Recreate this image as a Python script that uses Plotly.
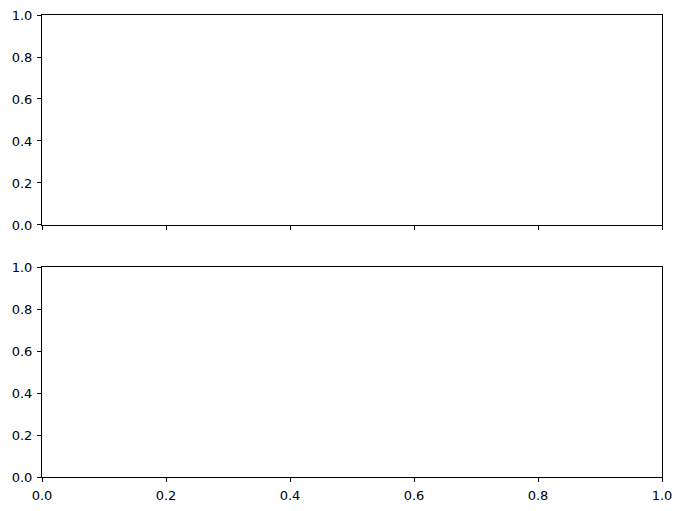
import plotly.graph_objects as go

# axis ticks of the two empty panels
x_ticks = [0.0, 0.2, 0.4, 0.6, 0.8, 1.0]
y_ticks = [0.0, 0.2, 0.4, 0.6, 0.8, 1.0]
x_range = [0, 1]
y_range = [0, 1]

fig = go.Figure()

# empty traces so both panels get drawn
fig.add_trace(go.Scatter(x=[], y=[], xaxis="x", yaxis="y", hoverinfo="skip"))
fig.add_trace(go.Scatter(x=[], y=[], xaxis="x2", yaxis="y2", hoverinfo="skip"))

axis_style = dict(
    showline=True, linecolor="black", linewidth=1, mirror=True,
    ticks="outside", ticklen=4, tickwidth=1, tickcolor="black",
    showgrid=False, zeroline=False, tickformat=".1f", automargin=False,
    ticklabeloverflow="allow",
    tickfont=dict(family="DejaVu Sans", size=13, color="black"),
)

fig.update_layout(
    width=682, height=511,
    margin=dict(l=34, r=28, t=7, b=42),
    paper_bgcolor="white", plot_bgcolor="white",
    showlegend=False,
    xaxis=dict(axis_style, domain=[0, 1], range=x_range, tickvals=x_ticks,
               anchor="y", matches="x2", showticklabels=False),
    yaxis=dict(axis_style, domain=[0.5455, 1], range=y_range, tickvals=y_ticks,
               anchor="x", ticklabelstandoff=2),
    xaxis2=dict(axis_style, domain=[0, 1], range=x_range, tickvals=x_ticks,
                anchor="y2", ticklabelstandoff=2),
    yaxis2=dict(axis_style, domain=[0, 0.4535], range=y_range, tickvals=y_ticks,
                anchor="x2", ticklabelstandoff=2),
)

fig.write_html("out.html")
